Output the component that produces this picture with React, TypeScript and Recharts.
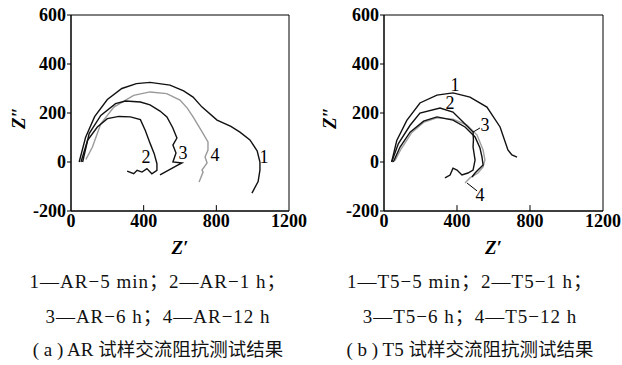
import React from 'react';
import {
  LineChart,
  Line,
  XAxis,
  YAxis,
  ReferenceArea,
  ReferenceLine,
  ReferenceDot,
} from 'recharts';

type Pt = { x: number; y: number };

// axis ticks (both panels share them)
const xTicks = [0, 400, 800, 1200];
const yTicks = [-200, 0, 200, 400, 600];

// (a) AR samples
const arCurve1: Pt[] = [
  { x: 45, y: 0 }, { x: 80, y: 100 }, { x: 130, y: 185 }, { x: 200, y: 255 }, { x: 280, y: 300 },
  { x: 360, y: 320 }, { x: 435, y: 325 }, { x: 545, y: 314 }, { x: 620, y: 290 }, { x: 672, y: 265 },
  { x: 720, y: 225 }, { x: 804, y: 171 }, { x: 880, y: 145 }, { x: 930, y: 122 }, { x: 985, y: 90 },
  { x: 1025, y: 45 }, { x: 1040, y: 0 }, { x: 1040, y: -33 }, { x: 1030, y: -80 }, { x: 996, y: -127 },
];
const arCurve2: Pt[] = [
  { x: 55, y: 0 }, { x: 91, y: 88 }, { x: 145, y: 143 }, { x: 200, y: 177 }, { x: 264, y: 186 },
  { x: 327, y: 184 }, { x: 382, y: 173 }, { x: 409, y: 129 }, { x: 436, y: 75 }, { x: 458, y: 34 },
  { x: 473, y: -7 }, { x: 473, y: -34 }, { x: 445, y: -48 }, { x: 418, y: -27 }, { x: 391, y: -41 },
  { x: 364, y: -34 }, { x: 345, y: -48 }, { x: 309, y: -37 },
];
const arCurve3: Pt[] = [
  { x: 64, y: 0 }, { x: 100, y: 116 }, { x: 164, y: 190 }, { x: 245, y: 238 }, { x: 300, y: 249 },
  { x: 382, y: 245 }, { x: 435, y: 233 }, { x: 490, y: 208 }, { x: 528, y: 184 }, { x: 560, y: 140 },
  { x: 583, y: 98 }, { x: 561, y: 69 }, { x: 578, y: 37 }, { x: 561, y: 0 }, { x: 611, y: -4 },
  { x: 585, y: -14 }, { x: 490, y: -53 },
];
const arCurve4: Pt[] = [
  { x: 82, y: 10 }, { x: 118, y: 61 }, { x: 164, y: 156 }, { x: 236, y: 224 }, { x: 345, y: 272 },
  { x: 435, y: 286 }, { x: 527, y: 279 }, { x: 600, y: 253 }, { x: 640, y: 220 }, { x: 672, y: 184 },
  { x: 720, y: 125 }, { x: 754, y: 82 }, { x: 754, y: 49 }, { x: 738, y: 20 }, { x: 749, y: -4 },
  { x: 721, y: -33 }, { x: 727, y: -41 }, { x: 705, y: -82 },
];
const arLabels = [
  { x: 1062, y: 24, text: '1' },
  { x: 413, y: 20, text: '2' },
  { x: 617, y: 37, text: '3' },
  { x: 793, y: 29, text: '4' },
];

// (b) T5 samples
const t5Curve1: Pt[] = [
  { x: 42, y: 0 }, { x: 70, y: 88 }, { x: 125, y: 170 }, { x: 197, y: 241 }, { x: 290, y: 273 },
  { x: 378, y: 282 }, { x: 471, y: 265 }, { x: 564, y: 224 }, { x: 636, y: 143 }, { x: 679, y: 49 },
  { x: 701, y: 29 }, { x: 729, y: 20 },
];
const t5Curve2: Pt[] = [
  { x: 42, y: 0 }, { x: 79, y: 75 }, { x: 143, y: 150 }, { x: 197, y: 200 }, { x: 307, y: 220 },
  { x: 378, y: 204 }, { x: 433, y: 163 }, { x: 488, y: 122 }, { x: 490, y: 90 }, { x: 488, y: 61 },
  { x: 499, y: 8 }, { x: 488, y: -33 }, { x: 460, y: -45 }, { x: 427, y: -53 }, { x: 400, y: -33 },
  { x: 378, y: -25 }, { x: 362, y: -53 }, { x: 334, y: -65 },
];
const t5Curve3: Pt[] = [
  { x: 51, y: 0 }, { x: 88, y: 61 }, { x: 143, y: 122 }, { x: 217, y: 167 }, { x: 290, y: 184 },
  { x: 378, y: 171 }, { x: 444, y: 143 }, { x: 499, y: 102 }, { x: 526, y: 57 }, { x: 537, y: 20 },
  { x: 543, y: -12 }, { x: 515, y: -33 }, { x: 499, y: -45 }, { x: 482, y: -61 },
];
const t5Curve4: Pt[] = [
  { x: 60, y: 5 }, { x: 95, y: 55 }, { x: 150, y: 118 }, { x: 220, y: 163 }, { x: 290, y: 180 },
  { x: 378, y: 175 }, { x: 455, y: 151 }, { x: 510, y: 110 }, { x: 543, y: 49 }, { x: 553, y: 8 },
  { x: 543, y: -20 }, { x: 515, y: -45 }, { x: 471, y: -65 }, { x: 444, y: -86 },
];
const t5Labels = [
  { x: 389, y: 314, text: '1' },
  { x: 362, y: 241, text: '2' },
  { x: 553, y: 151, text: '3' },
  { x: 526, y: -135, text: '4' },
];
const t5Leaders = [
  [{ x: 488, y: 122 }, { x: 526, y: 139 }],
  [{ x: 455, y: -86 }, { x: 510, y: -118 }],
];

const arCaption = ['1—AR−5 min；2—AR−1 h；', '3—AR−6 h；4—AR−12 h'];
const arTitle = { prefix: '( a ) AR ', cjk: '试样交流阻抗测试结果' };
const t5Caption = ['1—T5−5 min；2—T5−1 h；', '3—T5−6 h；4—T5−12 h'];
const t5Title = { prefix: '( b ) T5 ', cjk: '试样交流阻抗测试结果' };

const serif = '"Liberation Serif", "Times New Roman", serif';
const tickStyle = { fill: '#000', fontSize: 18, fontWeight: 700, fontFamily: serif };

const Panel = ({ curves, labels, leaders, yAxisWidth, right }: any) => (
  <LineChart width={311} height={260} margin={{ top: 15, right, bottom: 0, left: 0 }}>
    <XAxis
      type="number"
      dataKey="x"
      domain={[0, 1200]}
      ticks={xTicks}
      tickSize={0}
      tickMargin={3}
      height={49}
      stroke="#000"
      tick={tickStyle}
      label={(p: any) => {
        const vb = p.viewBox;
        return (
          <text x={vb.x + vb.width / 2} y={254} textAnchor="middle" fontSize={19} fontWeight={700}
            fontStyle="italic" fontFamily={serif} fill="#000">Z′</text>
        );
      }}
    />
    <YAxis
      type="number"
      dataKey="y"
      domain={[-200, 600]}
      ticks={yTicks}
      tickSize={4}
      tickMargin={1}
      width={yAxisWidth}
      stroke="#000"
      tick={tickStyle}
      label={(p: any) => {
        const vb = p.viewBox;
        const cx = vb.x + 18;
        const cy = 118;
        return (
          <text x={cx} y={cy} transform={`rotate(-90 ${cx} ${cy})`} textAnchor="middle"
            dominantBaseline="central" fontSize={19} fontWeight={700} fontStyle="italic"
            fontFamily={serif} fill="#000">Z″</text>
        );
      }}
    />
    <ReferenceArea x1={0} x2={1200} y1={-200} y2={600} fill="none" stroke="#000" strokeWidth={1} />
    {[400, 800].map((v) => (
      <ReferenceLine key={v} segment={[{ x: v, y: -200 }, { x: v, y: -176 }]} stroke="#000" />
    ))}
    {curves.map((c: any, i: number) => (
      <Line key={i} data={c.data} dataKey="y" type="linear" stroke={c.color} strokeWidth={1.4}
        dot={false} isAnimationActive={false} />
    ))}
    {(leaders || []).map((seg: any, i: number) => (
      <ReferenceLine key={'l' + i} segment={seg} stroke="#000" strokeWidth={1} />
    ))}
    {labels.map((l: any) => (
      <ReferenceDot key={l.text} x={l.x} y={l.y} r={0} stroke="none"
        label={{ value: l.text, position: 'center', fontSize: 18, fill: '#000', fontFamily: serif }} />
    ))}
  </LineChart>
);

const capBase: React.CSSProperties = {
  position: 'absolute', width: 340, textAlign: 'center', lineHeight: '24px', whiteSpace: 'pre',
  fontFamily: '"Liberation Serif", "Noto Sans CJK SC", serif', color: '#111',
};

const Caption = ({ lines, title, center }: { lines: string[]; title: any; center: number }) => (
  <>
    {lines.map((t, i) => (
      <div key={i} style={{ ...capBase, left: center - 170, top: 270 + i * 35, fontSize: 19, letterSpacing: 1 }}>
        {t}
      </div>
    ))}
    <div style={{ ...capBase, left: center - 170, top: 338, fontSize: 19 }}>
      <span>{title.prefix}</span>
      <span style={{ fontSize: 18.5 }}>{title.cjk}</span>
    </div>
  </>
);

export default function App() {
  return (
    <div style={{ position: 'absolute', left: 0, top: 0, width: 622, height: 365, background: '#fff', overflow: 'hidden' }}>
      <div style={{ position: 'absolute', left: 0, top: 0 }}>
        <Panel
          yAxisWidth={71}
          right={22}
          labels={arLabels}
          curves={[
            { data: arCurve1, color: '#111' },
            { data: arCurve4, color: '#9a9a9a' },
            { data: arCurve3, color: '#111' },
            { data: arCurve2, color: '#111' },
          ]}
        />
      </div>
      <div style={{ position: 'absolute', left: 311, top: 0 }}>
        <Panel
          yAxisWidth={73}
          right={19}
          labels={t5Labels}
          leaders={t5Leaders}
          curves={[
            { data: t5Curve1, color: '#111' },
            { data: t5Curve4, color: '#a0a0a0' },
            { data: t5Curve3, color: '#111' },
            { data: t5Curve2, color: '#111' },
          ]}
        />
      </div>
      <Caption lines={arCaption} title={arTitle} center={158} />
      <Caption lines={t5Caption} title={t5Title} center={470} />
    </div>
  );
}
